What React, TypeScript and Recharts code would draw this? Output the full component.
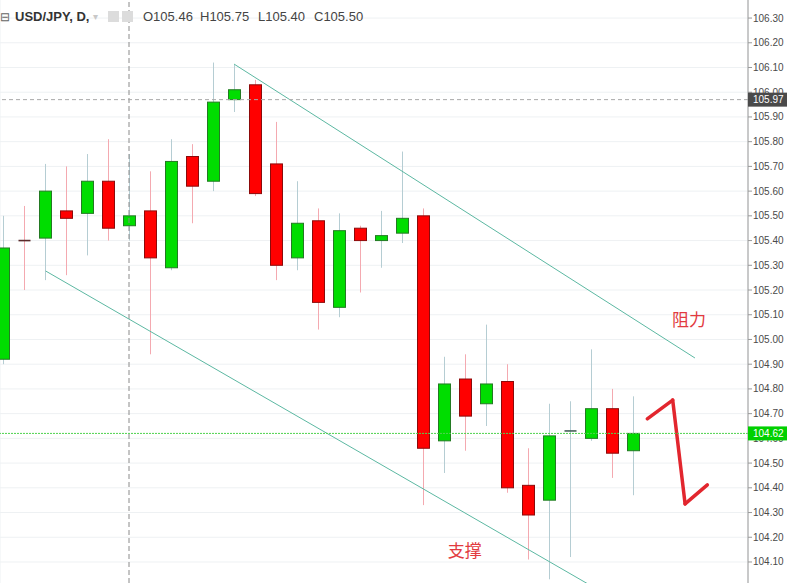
import React from "react";
import {
  ComposedChart,
  Bar,
  XAxis,
  YAxis,
  CartesianGrid,
  ReferenceLine,
  ReferenceDot,
} from "recharts";

// daily USD/JPY candles
const opens = [
  104.92, 105.4, 105.41, 105.52, 105.51, 105.64, 105.46, 105.52, 105.29, 105.74,
  105.64, 105.97, 106.03, 105.71, 105.33, 105.48, 105.13, 105.45, 105.4, 105.43,
  105.5, 104.59, 104.84, 104.74, 104.83, 104.41, 104.35, 104.63, 104.6, 104.72,
  104.55,
];
const highs = [
  105.5, 105.54, 105.71, 105.7, 105.75, 105.81, 105.75, 105.68, 105.81, 105.79,
  106.12, 106.11, 106.05, 105.88, 105.64, 105.53, 105.51, 105.46, 105.52, 105.76,
  105.53, 104.93, 104.94, 105.06, 104.9, 104.56, 104.74, 104.75, 104.96, 104.8,
  104.77,
];
const lows = [
  104.9, 105.2, 105.24, 105.26, 105.34, 105.4, 105.4, 104.94, 105.28, 105.47,
  105.6, 105.92, 105.58, 105.24, 105.28, 105.04, 105.09, 105.19, 105.29, 105.39,
  104.33, 104.46, 104.55, 104.65, 104.38, 104.11, 104.03, 104.12, 104.59, 104.44,
  104.37,
];
const closes = [
  105.37, 105.4, 105.6, 105.49, 105.64, 105.45, 105.5, 105.33, 105.72, 105.62,
  105.96, 106.01, 105.59, 105.3, 105.47, 105.15, 105.44, 105.4, 105.42, 105.49,
  104.56, 104.82, 104.69, 104.82, 104.4, 104.29, 104.61, 104.63, 104.72, 104.54,
  104.62,
];
const bearishDoji = [1];

const priceTicks = [
  104.1, 104.2, 104.3, 104.4, 104.5, 104.6, 104.7, 104.8, 104.9, 105.0, 105.1,
  105.2, 105.3, 105.4, 105.5, 105.6, 105.7, 105.8, 105.9, 106.0, 106.1, 106.2,
  106.3,
];
const timeGrid = [0, 10, 14, 18, 22, 28, 32];

// drawings: [barIndex, price]
const resistance = [
  [11.0, 106.114],
  [32.95, 104.925],
];
const support = [
  [2.03, 105.277],
  [28.43, 103.983],
];
const zigzag = [
  [30.68, 104.679],
  [31.89, 104.755],
  [32.48, 104.335],
  [33.54, 104.412],
];
const markPrice = 105.97;
const lastPrice = 104.62;
const crosshairBar = 6;
const tagColors: Record<string, string> = {
  [markPrice.toFixed(2)]: "#4a4a4a",
  [lastPrice.toFixed(2)]: "#00d000",
};

const data = opens.map((o, i) => ({
  i,
  open: o,
  high: highs[i],
  low: lows[i],
  close: closes[i],
  range: [lows[i], highs[i]],
  down: closes[i] < o || bearishDoji.includes(i),
}));

const Candle = (props: any) => {
  const { x, y, width, height, payload } = props;
  if (!payload) return null;
  const { open, close, high, low, down } = payload;
  const top = Math.min(y, y + height);
  const h = Math.abs(height);
  const px = (v: number) => top + ((high - v) / (high - low)) * h;
  const cx = Math.round(x + width / 2) + 0.5;
  const wick = down ? "#f4a9b0" : "#b5cdd3";
  const yo = px(open);
  const yc = px(close);
  const bw = 12;
  return (
    <g>
      <line x1={cx} x2={cx} y1={top} y2={top + h} stroke={wick} strokeWidth={1} />
      {open === close ? (
        <line
          x1={cx - bw / 2}
          x2={cx + bw / 2}
          y1={yo}
          y2={yo}
          stroke={down ? "#5a2b2b" : "#46605a"}
          strokeWidth={1.6}
        />
      ) : (
        <rect
          x={cx - bw / 2}
          y={Math.min(yo, yc)}
          width={bw}
          height={Math.max(Math.abs(yc - yo), 1)}
          fill={down ? "#ff0000" : "#00dd00"}
          stroke={down ? "#8c0a0a" : "#237a23"}
          strokeWidth={1}
        />
      )}
    </g>
  );
};

const font = "Liberation Sans, Arial, sans-serif";

// price scale labels; the two price tags come last so they cover the labels
const PriceTick = (props: any) => {
  const { x, y, payload } = props;
  const label = Number(payload.value).toFixed(2);
  const tag = tagColors[label];
  if (tag) {
    return (
      <g>
        <rect x={x - 5} y={y - 7} width={39} height={14} fill={tag} />
        <text x={x} y={y + 3.5} fill="#fff" fontSize={10} fontFamily={font}>
          {label}
        </text>
      </g>
    );
  }
  return (
    <text x={x} y={y + 3.5} fill="#4a4a4a" fontSize={10} fontFamily={font}>
      {label}
    </text>
  );
};

const seg = (pts: number[][]) => pts.map(([x, y]) => ({ x, y }));

const headerStyle: React.CSSProperties = {
  position: "absolute",
  top: 9,
  fontSize: 13,
  lineHeight: "16px",
  fontFamily: font,
  color: "#444",
  whiteSpace: "nowrap",
};

export default function App() {
  return (
    <div style={{ position: "relative", width: 787, height: 583, background: "#fff" }}>
      <style>{`body{margin:0}`}</style>
      <ComposedChart
        width={787}
        height={583}
        data={data}
        margin={{ top: 0, right: 0, bottom: 0, left: 0 }}
      >
        <CartesianGrid stroke="#eef1f3" horizontalValues={priceTicks} />
        <XAxis
          type="number"
          dataKey="i"
          domain={[-0.143, 35.476]}
          ticks={timeGrid}
          allowDataOverflow
          tick={false}
          tickLine={false}
          axisLine={false}
          height={0}
        />
        <YAxis
          orientation="right"
          domain={[104.015, 106.373]}
          allowDataOverflow
          ticks={[...priceTicks, markPrice, lastPrice]}
          interval={0}
          width={39}
          tickSize={4}
          tickMargin={1}
          stroke="#9a9a9a"
          tick={<PriceTick />}
        />
        <ReferenceLine x={crosshairBar} stroke="#8a8a8a" strokeDasharray="5 3" />
        <Bar
          dataKey="range"
          barSize={13}
          shape={<Candle />}
          isAnimationActive={false}
        />
        <ReferenceLine
          segment={seg(resistance)}
          stroke="#5cb8a2"
          strokeWidth={1}
          ifOverflow="visible"
        />
        <ReferenceLine
          segment={seg(support)}
          stroke="#5cb8a2"
          strokeWidth={1}
          ifOverflow="visible"
        />
        {zigzag.slice(1).map((p, k) => (
          <ReferenceLine
            key={k}
            segment={seg([zigzag[k], p])}
            stroke="#e2262e"
            strokeWidth={3.5}
            strokeLinecap="round"
            ifOverflow="visible"
          />
        ))}
        <ReferenceDot
          x={32.67}
          y={105.079}
          r={1}
          fill="none"
          stroke="none"
          ifOverflow="visible"
          label={{
            value: "阻力",
            position: "center",
            fill: "#e23a40",
            fontSize: 17,
            fontFamily: "Noto Sans CJK SC",
          }}
        />
        <ReferenceDot
          x={21.99}
          y={104.145}
          r={1}
          fill="none"
          stroke="none"
          ifOverflow="visible"
          label={{
            value: "支撑",
            position: "center",
            fill: "#e23a40",
            fontSize: 17,
            fontFamily: "Noto Sans CJK SC",
          }}
        />
        <ReferenceLine y={markPrice} stroke="#a8a8a8" strokeDasharray="4 3" />
        <ReferenceLine y={lastPrice} stroke="#4fd24f" strokeDasharray="2 1" />
      </ComposedChart>
      <span style={{ ...headerStyle, left: 0, color: "#666", fontSize: 12 }}>⊟</span>
      <span style={{ ...headerStyle, left: 15, fontWeight: "bold", color: "#333" }}>
        USD/JPY, D,
      </span>
      <span style={{ ...headerStyle, left: 93, color: "#c8c8c8", fontSize: 10 }}>▾</span>
      <span
        style={{ position: "absolute", left: 108, top: 11, width: 11, height: 11, background: "#dcdcdc" }}
      />
      <span
        style={{ position: "absolute", left: 122, top: 11, width: 11, height: 11, background: "#dcdcdc" }}
      />
      <span style={{ ...headerStyle, left: 143 }}>O105.46</span>
      <span style={{ ...headerStyle, left: 200 }}>H105.75</span>
      <span style={{ ...headerStyle, left: 258 }}>L105.40</span>
      <span style={{ ...headerStyle, left: 314 }}>C105.50</span>
    </div>
  );
}
